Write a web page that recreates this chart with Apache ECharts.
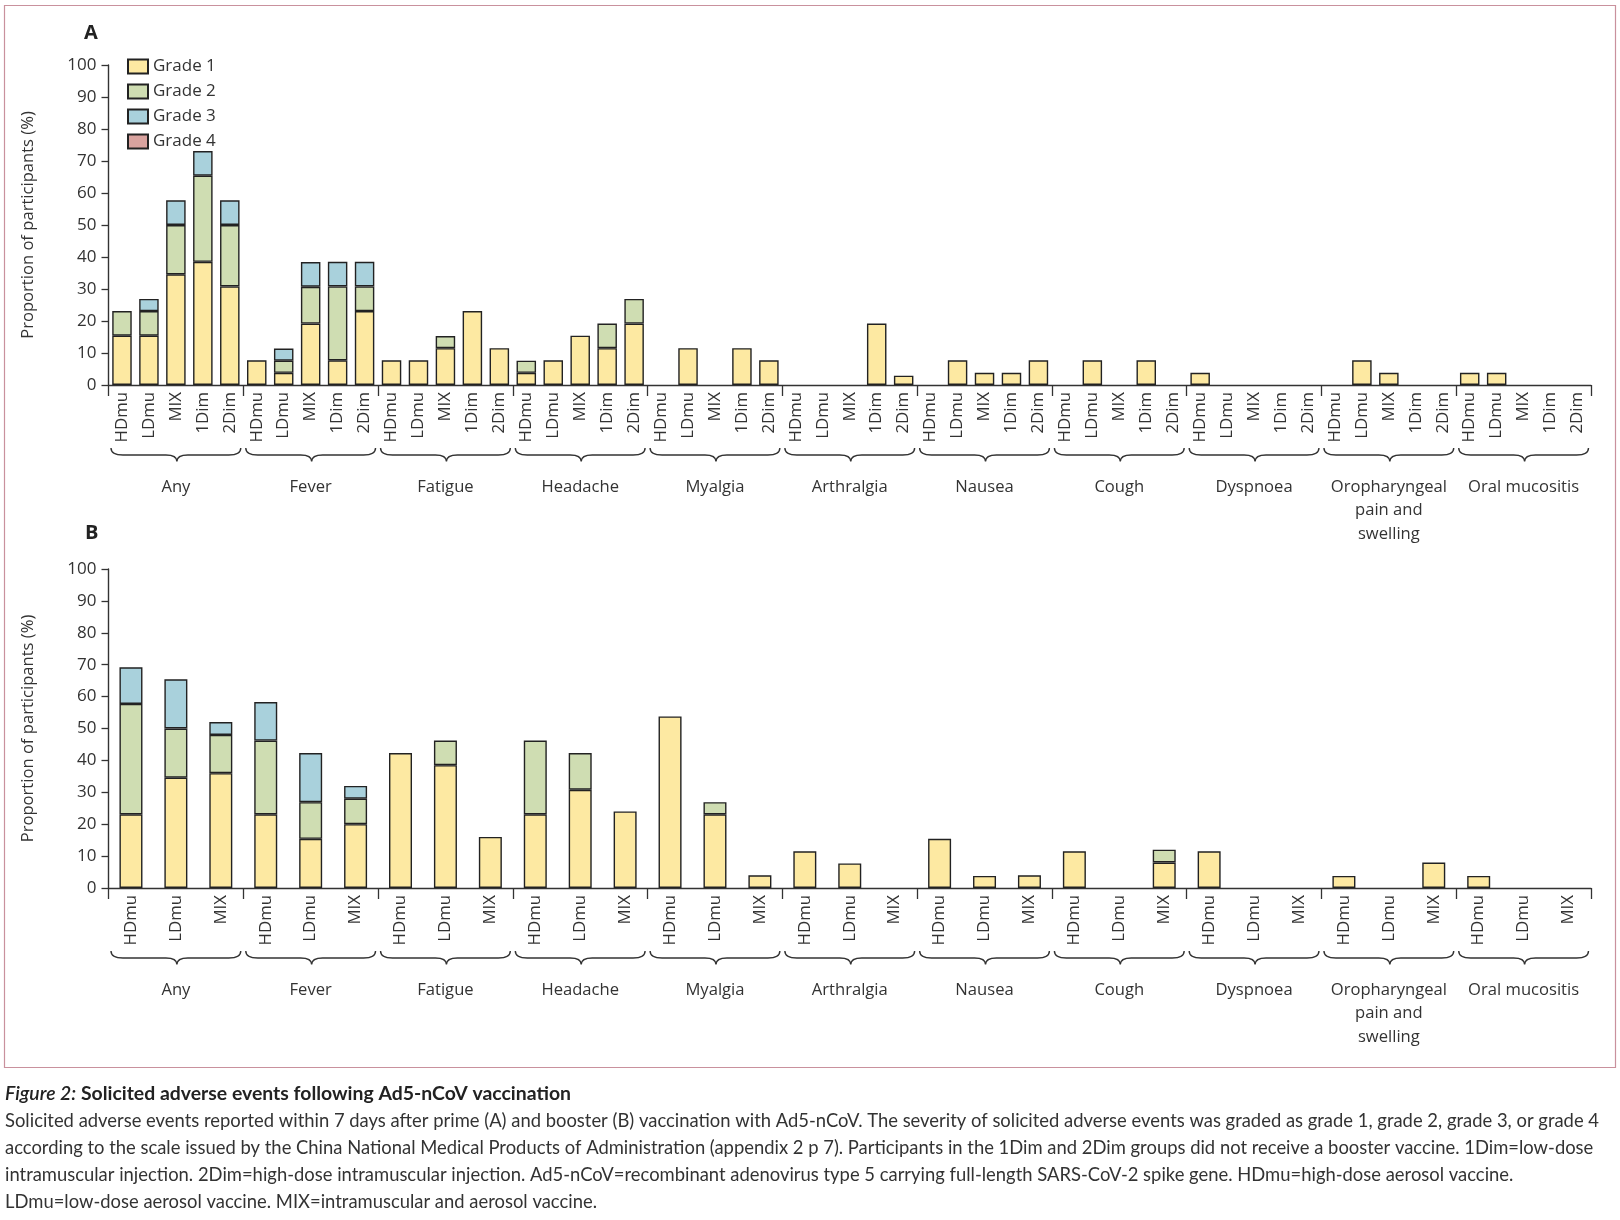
<!DOCTYPE html>
<html>
<head>
<meta charset="utf-8">
<script src="https://cdn.jsdelivr.net/npm/echarts@6/dist/echarts.min.js"></script>
<style>
  html, body { margin: 0; padding: 0; background: #fff; }
  #chart { width: 1620px; height: 1220px; }
</style>
</head>
<body>
<div id="chart"></div>
<script>
// ---------- data ----------
const groups = ['Any', 'Fever', 'Fatigue', 'Headache', 'Myalgia', 'Arthralgia', 'Nausea', 'Cough', 'Dyspnoea', 'Oropharyngeal\npain and\nswelling', 'Oral mucositis'];
const armsA = ['HDmu', 'LDmu', 'MIX', '1Dim', '2Dim'];
const armsB = ['HDmu', 'LDmu', 'MIX'];
const gradeNames = ['Grade 1', 'Grade 2', 'Grade 3', 'Grade 4'];
const yTicks = [0, 10, 20, 30, 40, 50, 60, 70, 80, 90, 100];

// Panel A (prime), 11 events x 5 arms, per-grade proportions (%)
const primeGrade1 = [
  15.4, 15.4, 34.6, 38.5, 30.8,   // Any
  7.7, 3.8, 19.2, 7.7, 23.1,      // Fever
  7.7, 7.7, 11.5, 23.1, 11.5,     // Fatigue
  3.8, 7.7, 15.4, 11.5, 19.2,     // Headache
  0, 11.5, 0, 11.5, 7.7,          // Myalgia
  0, 0, 0, 19.2, 2.9,             // Arthralgia
  0, 7.7, 3.8, 3.8, 7.7,          // Nausea
  0, 7.7, 0, 7.7, 0,              // Cough
  3.8, 0, 0, 0, 0,                // Dyspnoea
  0, 7.7, 3.8, 0, 0,              // Oropharyngeal
  3.8, 3.8, 0, 0, 0               // Oral mucositis
];
const primeGrade2 = [
  7.7, 7.7, 15.4, 26.9, 19.2,
  0, 3.8, 11.5, 23.1, 7.7,
  0, 0, 3.8, 0, 0,
  3.8, 0, 0, 7.7, 7.7,
  0, 0, 0, 0, 0,
  0, 0, 0, 0, 0,
  0, 0, 0, 0, 0,
  0, 0, 0, 0, 0,
  0, 0, 0, 0, 0,
  0, 0, 0, 0, 0,
  0, 0, 0, 0, 0
];
const primeGrade3 = [
  0, 3.8, 7.7, 7.7, 7.7,
  0, 3.8, 7.7, 7.7, 7.7,
  0, 0, 0, 0, 0,
  0, 0, 0, 0, 0,
  0, 0, 0, 0, 0,
  0, 0, 0, 0, 0,
  0, 0, 0, 0, 0,
  0, 0, 0, 0, 0,
  0, 0, 0, 0, 0,
  0, 0, 0, 0, 0,
  0, 0, 0, 0, 0
];
const primeGrade4 = [
  0, 0, 0, 0, 0, 0, 0, 0, 0, 0, 0,
  0, 0, 0, 0, 0, 0, 0, 0, 0, 0, 0,
  0, 0, 0, 0, 0, 0, 0, 0, 0, 0, 0,
  0, 0, 0, 0, 0, 0, 0, 0, 0, 0, 0,
  0, 0, 0, 0, 0, 0, 0, 0, 0, 0, 0
];

// Panel B (booster), 11 events x 3 arms
const boostGrade1 = [
  23.1, 34.6, 36,    // Any
  23.1, 15.4, 20,    // Fever
  42.3, 38.5, 16,    // Fatigue
  23.1, 30.8, 24,    // Headache
  53.8, 23.1, 4,     // Myalgia
  11.5, 7.7, 0,      // Arthralgia
  15.4, 3.8, 4,      // Nausea
  11.5, 0, 8,        // Cough
  11.5, 0, 0,        // Dyspnoea
  3.8, 0, 8,         // Oropharyngeal
  3.8, 0, 0          // Oral mucositis
];
const boostGrade2 = [
  34.6, 15.4, 12,
  23.1, 11.5, 8,
  0, 7.7, 0,
  23.1, 11.5, 0,
  0, 3.8, 0,
  0, 0, 0,
  0, 0, 0,
  0, 0, 4,
  0, 0, 0,
  0, 0, 0,
  0, 0, 0
];
const boostGrade3 = [
  11.5, 15.4, 4,
  12.1, 15.4, 4,
  0, 0, 0,
  0, 0, 0,
  0, 0, 0,
  0, 0, 0,
  0, 0, 0,
  0, 0, 0,
  0, 0, 0,
  0, 0, 0,
  0, 0, 0
];
const boostGrade4 = [
  0, 0, 0, 0, 0, 0, 0, 0, 0, 0, 0,
  0, 0, 0, 0, 0, 0, 0, 0, 0, 0, 0,
  0, 0, 0, 0, 0, 0, 0, 0, 0, 0, 0
];

// ---------- styling ----------
const gradeColors = ['#fde9a2', '#cfddb2', '#a9d1dc', '#d9a39f'];
const FONT = '"Open Sans", Lato, sans-serif';
const CAPFONT = 'Lato, "Open Sans", sans-serif';
const TXT = '#333';

const catsA = [];
groups.forEach(() => armsA.forEach(a => catsA.push(a)));
const catsB = [];
groups.forEach(() => armsB.forEach(a => catsB.push(a)));

const primeSeries = [primeGrade1, primeGrade2, primeGrade3, primeGrade4];
const boostSeries = [boostGrade1, boostGrade2, boostGrade3, boostGrade4];

function barAxis(gridIndex, cats, per) {
  return {
    type: 'category', gridIndex: gridIndex, data: cats, position: 'bottom',
    axisLine: { lineStyle: { color: '#333', width: 1.4 } },
    axisTick: { show: true, interval: (i) => i % per === 0, length: 11, lineStyle: { color: '#333', width: 1.3 } },
    axisLabel: { interval: 0, rotate: 90, fontFamily: FONT, fontSize: 16.8, color: TXT, margin: 7 }
  };
}
function groupAxis(gridIndex) {
  return {
    type: 'category', gridIndex: gridIndex, data: groups, position: 'bottom',
    axisLine: { show: false }, axisTick: { show: false },
    axisLabel: { interval: 0, fontFamily: FONT, fontSize: 16.6, color: TXT, margin: 90, lineHeight: 23.8 }
  };
}
function valAxis(gridIndex) {
  return {
    type: 'value', gridIndex: gridIndex, min: yTicks[0], max: yTicks[yTicks.length - 1], interval: 10,
    name: 'Proportion of participants (%)', nameLocation: 'middle', nameGap: 72,
    nameTextStyle: { fontFamily: FONT, fontSize: 16.6, color: TXT },
    axisLine: { show: true, lineStyle: { color: '#333', width: 1.4 } },
    axisTick: { show: true, length: 7, lineStyle: { color: '#333', width: 1.3 } },
    axisLabel: { fontFamily: FONT, fontSize: 17, color: TXT, margin: 12 },
    splitLine: { show: false }
  };
}

function braceSeries(xAxisIndex, yAxisIndex) {
  return {
    type: 'custom', xAxisIndex: xAxisIndex, yAxisIndex: yAxisIndex, silent: true, clip: false,
    encode: { x: 0, y: 1 },
    data: groups.map((g, i) => [i, 0]),
    renderItem: function (params, api) {
      const c = api.coord([api.value(0), 0]);
      const w = api.size([1, 0])[0];
      const L = c[0] - w / 2 + 2.5, R = c[0] + w / 2 - 2.5, M = c[0] + 1;
      const t = c[1] + 63;
      const f = t + 7, p = t + 13.5;
      const d = 'M' + L + ',' + t +
        ' Q' + L + ',' + f + ' ' + (L + 12) + ',' + f +
        ' L' + (M - 11) + ',' + f +
        ' Q' + M + ',' + f + ' ' + M + ',' + p +
        ' Q' + M + ',' + f + ' ' + (M + 11) + ',' + f +
        ' L' + (R - 12) + ',' + f +
        ' Q' + R + ',' + f + ' ' + R + ',' + t;
      return { type: 'path', shape: { pathData: d }, style: { fill: null, stroke: '#333', lineWidth: 1.4 } };
    }
  };
}

const series = [];
primeSeries.forEach((arr, g) => {
  series.push({
    type: 'bar', name: gradeNames[g], stack: 'A', xAxisIndex: 0, yAxisIndex: 0,
    barWidth: 19.5,
    data: arr.map(v => v === 0 ? '-' : v),
    itemStyle: { color: gradeColors[g], borderColor: '#222', borderWidth: 1.4 },
    emphasis: { disabled: true }
  });
});
boostSeries.forEach((arr, g) => {
  series.push({
    type: 'bar', name: gradeNames[g], stack: 'B', xAxisIndex: 2, yAxisIndex: 1,
    barWidth: 23,
    data: arr.map(v => v === 0 ? '-' : v),
    itemStyle: { color: gradeColors[g], borderColor: '#222', borderWidth: 1.4 },
    emphasis: { disabled: true }
  });
});
series.push(braceSeries(1, 0));
series.push(braceSeries(3, 1));

// ---------- caption ----------
const captionTitleItalic = 'Figure 2:';
const captionTitleBold = ' Solicited adverse events following Ad5-nCoV vaccination';
const captionLines = [
  'Solicited adverse events reported within 7 days after prime (A) and booster (B) vaccination with Ad5-nCoV. The severity of solicited adverse events was graded as grade 1, grade 2, grade 3, or grade 4',
  'according to the scale issued by the China National Medical Products of Administration (appendix 2 p 7). Participants in the 1Dim and 2Dim groups did not receive a booster vaccine. 1Dim=low-dose',
  'intramuscular injection. 2Dim=high-dose intramuscular injection. Ad5-nCoV=recombinant adenovirus type 5 carrying full-length SARS-CoV-2 spike gene. HDmu=high-dose aerosol vaccine.',
  'LDmu=low-dose aerosol vaccine. MIX=intramuscular and aerosol vaccine.'
];

const mctx = document.createElement('canvas').getContext('2d');
function measure(font, text) { mctx.font = font; return mctx.measureText(text).width; }
const CAP_SIZE = 19, HEAD_SIZE = 19.5;
const bodyScale = 1594 / measure(CAP_SIZE + 'px Lato', captionLines[0]);
const headW = measure('italic 600 ' + HEAD_SIZE + 'px Lato', captionTitleItalic) + measure('bold ' + HEAD_SIZE + 'px Lato', captionTitleBold);
const headScale = 566 / headW;

const graphics = [
  { type: 'rect', shape: { x: 4.5, y: 5.5, width: 1611, height: 1062 }, style: { fill: null, stroke: '#c9919d', lineWidth: 1.2 }, silent: true },
  { type: 'text', x: 5, y: 1094, scaleX: headScale, silent: true,
    style: { x: 0, y: 0, text: '{i|' + captionTitleItalic + '}{b|' + captionTitleBold + '}', verticalAlign: 'middle',
      rich: { i: { fontFamily: CAPFONT, fontStyle: 'italic', fontWeight: 600, fontSize: HEAD_SIZE, fill: '#222' },
              b: { fontFamily: CAPFONT, fontWeight: 'bold', fontSize: HEAD_SIZE, fill: '#222' } } } }
];
captionLines.forEach((line, i) => {
  graphics.push({ type: 'text', x: 5, y: 1121 + i * 26.8, scaleX: bodyScale, silent: true,
    style: { x: 0, y: 0, text: line, verticalAlign: 'middle', fontFamily: CAPFONT, fontSize: CAP_SIZE, fill: '#333' } });
});

const option = {
  animation: false,
  backgroundColor: '#fff',
  title: [
    { text: 'A', left: 84, top: 23, padding: 0, textStyle: { fontFamily: FONT, fontSize: 20, fontWeight: 'bold', color: '#222' } },
    { text: 'B', left: 85, top: 523, padding: 0, textStyle: { fontFamily: FONT, fontSize: 20, fontWeight: 'bold', color: '#222' } }
  ],
  legend: {
    data: gradeNames, orient: 'vertical', left: 127, top: 58, padding: 0,
    itemWidth: 20, itemHeight: 14, itemGap: 8, icon: 'rect',
    textStyle: { fontFamily: FONT, fontSize: 17, color: TXT, lineHeight: 16 },
    selectedMode: false
  },
  grid: [
    { left: 108.5, right: 29, top: 65, height: 320 },
    { left: 108.5, right: 29, top: 569, height: 319 }
  ],
  xAxis: [barAxis(0, catsA, 5), groupAxis(0), barAxis(1, catsB, 3), groupAxis(1)],
  yAxis: [valAxis(0), valAxis(1)],
  series: series,
  graphic: graphics
};

const chart = echarts.init(document.getElementById('chart'), null, { renderer: 'canvas' });
chart.setOption(option);
</script>
</body>
</html>
